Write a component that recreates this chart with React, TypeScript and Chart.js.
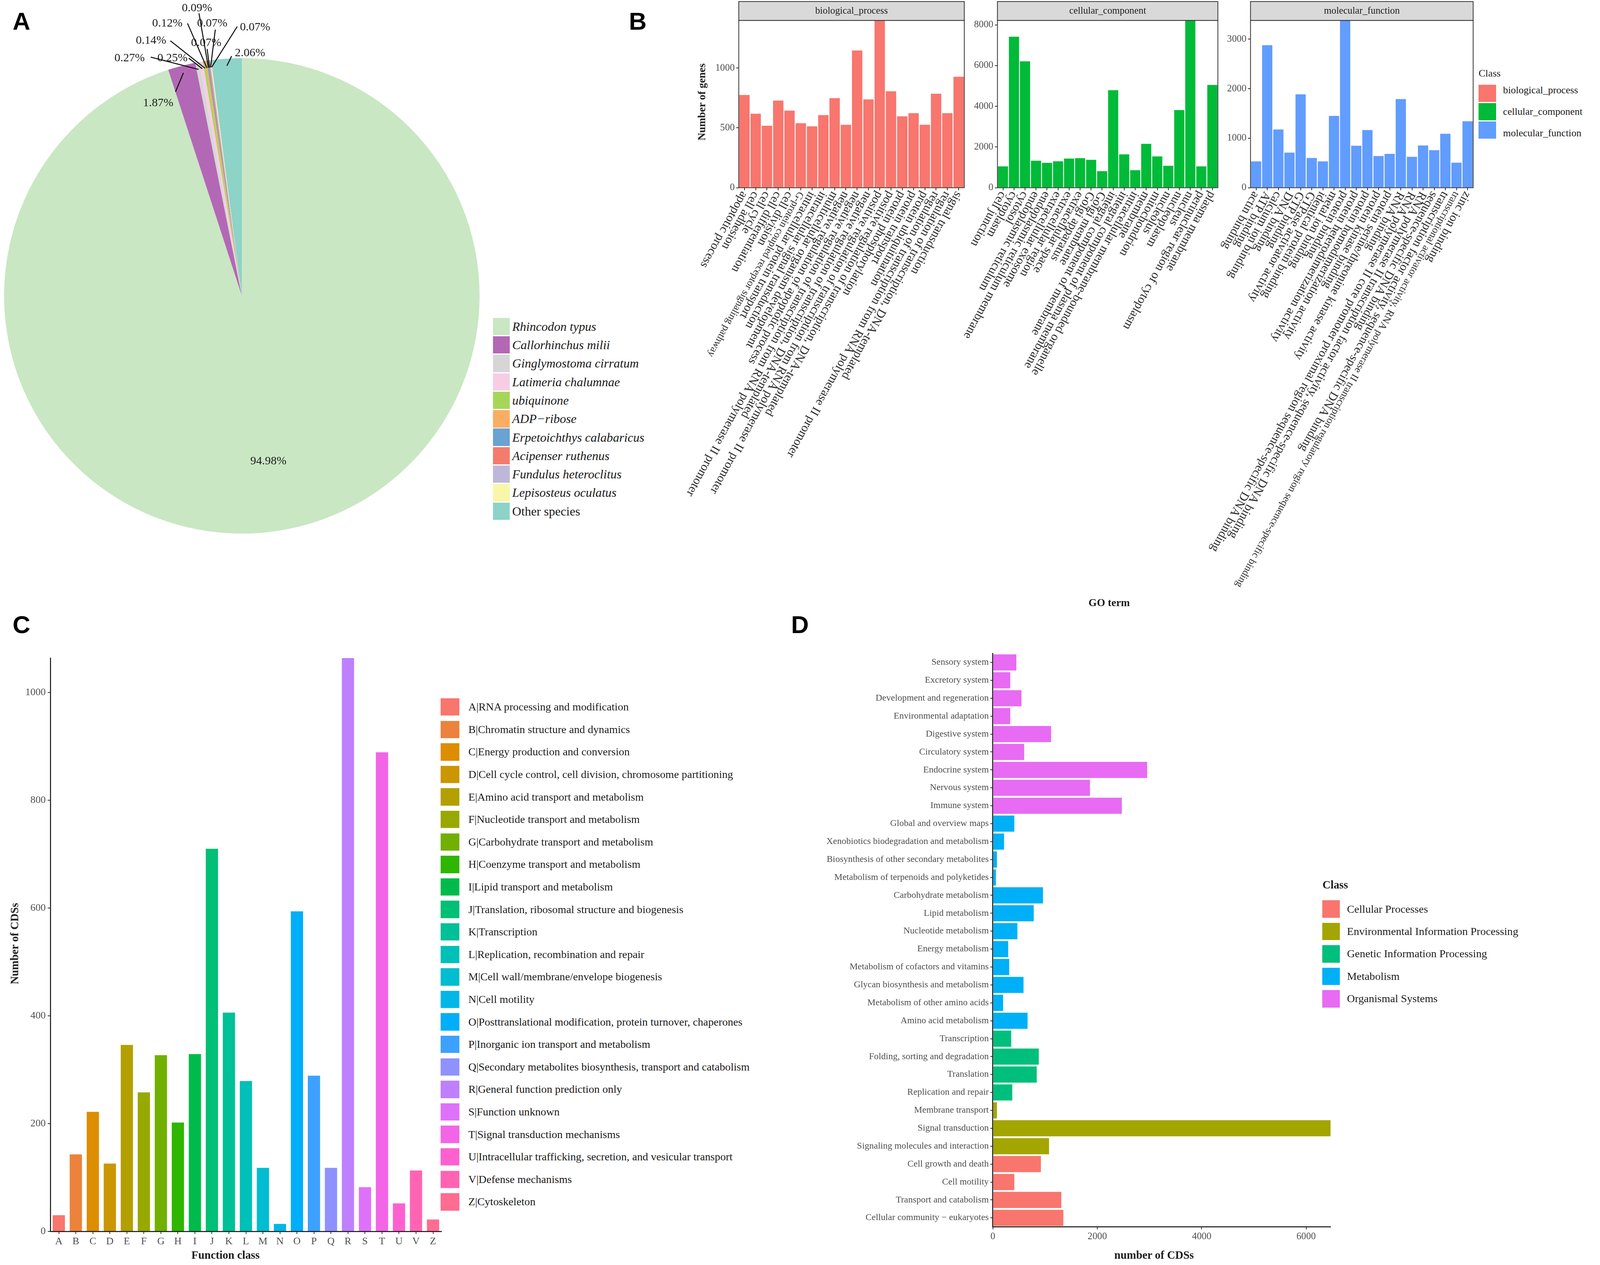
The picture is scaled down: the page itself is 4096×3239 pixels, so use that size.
import React, { useEffect, useRef } from "react";
import { Chart, registerables } from "chart.js";
Chart.register(...registerables);

const S = 4096 / 1568;
const T = (v: number) => v * S;
const SERIF = '"Liberation Serif", "Times New Roman", Times, serif';
const SANS = '"Liberation Sans", Arial, Helvetica, sans-serif';

// ---------------- Panel A data ----------------
const speciesNames = [
  "Rhincodon typus", "Callorhinchus milii", "Ginglymostoma cirratum", "Latimeria chalumnae",
  "ubiquinone", "ADP\u2212ribose", "Erpetoichthys calabaricus", "Acipenser ruthenus",
  "Fundulus heteroclitus", "Lepisosteus oculatus", "Other species",
];
const speciesPercent = [94.98, 1.87, 0.27, 0.25, 0.14, 0.12, 0.09, 0.07, 0.07, 0.07, 2.06];
const speciesColors = [
  "#C9E7C3", "#B368B6", "#D6D6D6", "#F7CDE4", "#A5D65A", "#F9AE63",
  "#6AA2D2", "#F57C6C", "#BDB8DA", "#F9F6AA", "#8DD3C7",
];
const speciesItalic = [true, true, true, true, true, true, true, true, true, true, false];
// label placement (style): offsets from pie centre in thumbnail px
const pieLabelOffset: [number, number][] = [
  [26, 162], [-82, -189], [-110, -233], [-68, -233], [-89, -250], [-73, -267],
  [-44, -282], [-35, -248], [-29, -267], [13, -263], [8, -238],
];
const pieLineFrom: ([number, number] | null)[] = [
  null, [-65, -200], [-89.3, -234], [-52, -233], [-70, -250], [-53.2, -267],
  [-42, -277], [-34, -242], [-26, -261], [-4.5, -264], [-10, -235],
];

// ---------------- Panel B data ----------------
const bpTerms = [
  "apoptotic process", "cell adhesion", "cell cycle", "cell differentiation", "cell division",
  "G-protein coupled receptor signaling pathway", "intracellular protein transport",
  "intracellular signal transduction", "multicellular organism development",
  "negative regulation of apoptotic process",
  "negative regulation of transcription from RNA polymerase II promoter",
  "negative regulation of transcription, DNA-templated",
  "positive regulation of transcription from RNA polymerase II promoter",
  "positive regulation of transcription, DNA-templated", "protein phosphorylation",
  "protein transport", "protein ubiquitination",
  "regulation of transcription from RNA polymerase II promoter",
  "regulation of transcription, DNA-templated", "signal transduction",
];
const bpGenes = [775, 618, 518, 728, 644, 539, 513, 607, 749, 526, 1147, 738, 1398, 806, 597, 623, 526, 785, 623, 927];
const bpTicks = [0, 500, 1000];

const ccTerms = [
  "cell junction", "cytoplasm", "cytosol", "endoplasmic reticulum", "endoplasmic reticulum membrane",
  "extracellular exosome", "extracellular region", "extracellular space", "Golgi apparatus",
  "Golgi membrane", "integral component of membrane", "integral component of plasma membrane",
  "intracellular membrane-bounded organelle", "membrane", "mitochondrion", "nucleolus",
  "nucleoplasm", "nucleus", "perinuclear region of cytoplasm", "plasma membrane",
];
const ccGenes = [1050, 7413, 6209, 1328, 1223, 1297, 1433, 1452, 1371, 815, 4788, 1637, 862, 2154, 1539, 1077, 3816, 8216, 1046, 5047];
const ccTicks = [0, 2000, 4000, 6000, 8000];

const mfTerms = [
  "actin binding", "ATP binding", "calcium ion binding", "DNA binding", "GTP binding",
  "GTPase activator activity", "identical protein binding", "metal ion binding", "protein binding",
  "protein heterodimerization activity", "protein homodimerization activity", "protein kinase binding",
  "protein serine/threonine kinase activity", "RNA binding",
  "RNA polymerase II core promoter proximal region sequence-specific DNA binding",
  "RNA polymerase II transcription factor activity, sequence-specific DNA binding",
  "sequence-specific DNA binding", "transcription factor activity, sequence-specific DNA binding",
  "transcriptional activator activity, RNA polymerase II transcription regulatory region sequence-specific binding",
  "zinc ion binding",
];
const mfGenes = [532, 2878, 1177, 709, 1886, 600, 532, 1451, 3380, 848, 1165, 641, 684, 1790, 625, 853, 759, 1089, 506, 1342];
const mfTicks = [0, 1000, 2000, 3000];
const goClasses = ["biological_process", "cellular_component", "molecular_function"];
const goColors = ["#F8766D", "#00BA38", "#619CFF"];
const smallTerms = new Set([
  "G-protein coupled receptor signaling pathway",
  "transcriptional activator activity, RNA polymerase II transcription regulatory region sequence-specific binding",
]);

// ---------------- Panel C data ----------------
const cogLetters = ["A", "B", "C", "D", "E", "F", "G", "H", "I", "J", "K", "L", "M", "N", "O", "P", "Q", "R", "S", "T", "U", "V", "Z"];
const cogNames = [
  "A|RNA processing and modification", "B|Chromatin structure and dynamics",
  "C|Energy production and conversion", "D|Cell cycle control, cell division, chromosome partitioning",
  "E|Amino acid transport and metabolism", "F|Nucleotide transport and metabolism",
  "G|Carbohydrate transport and metabolism", "H|Coenzyme transport and metabolism",
  "I|Lipid transport and metabolism", "J|Translation, ribosomal structure and biogenesis",
  "K|Transcription", "L|Replication, recombination and repair",
  "M|Cell wall/membrane/envelope biogenesis", "N|Cell motility",
  "O|Posttranslational modification, protein turnover, chaperones",
  "P|Inorganic ion transport and metabolism",
  "Q|Secondary metabolites biosynthesis, transport and catabolism",
  "R|General function prediction only", "S|Function unknown", "T|Signal transduction mechanisms",
  "U|Intracellular trafficking, secretion, and vesicular transport", "V|Defense mechanisms",
  "Z|Cytoskeleton",
];
const cogCounts = [30, 143, 222, 126, 346, 258, 327, 202, 329, 710, 406, 279, 118, 14, 594, 289, 118, 1064, 82, 889, 52, 113, 22];
const cogTicks = [0, 200, 400, 600, 800, 1000];

// ---------------- Panel D data ----------------
const keggPathways = [
  "Sensory system", "Excretory system", "Development and regeneration", "Environmental adaptation",
  "Digestive system", "Circulatory system", "Endocrine system", "Nervous system", "Immune system",
  "Global and overview maps", "Xenobiotics biodegradation and metabolism",
  "Biosynthesis of other secondary metabolites", "Metabolism of terpenoids and polyketides",
  "Carbohydrate metabolism", "Lipid metabolism", "Nucleotide metabolism", "Energy metabolism",
  "Metabolism of cofactors and vitamins", "Glycan biosynthesis and metabolism",
  "Metabolism of other amino acids", "Amino acid metabolism", "Transcription",
  "Folding, sorting and degradation", "Translation", "Replication and repair",
  "Membrane transport", "Signal transduction", "Signaling molecules and interaction",
  "Cell growth and death", "Cell motility", "Transport and catabolism",
  "Cellular community \u2212 eukaryotes",
];
const keggCounts = [450, 333, 548, 333, 1115, 600, 2955, 1860, 2470, 411, 215, 78, 59, 960, 783, 470, 294, 313, 587, 196, 665, 352, 880, 840, 372, 78, 6469, 1076, 920, 411, 1311, 1350];
const keggClassOf = [4, 4, 4, 4, 4, 4, 4, 4, 4, 3, 3, 3, 3, 3, 3, 3, 3, 3, 3, 3, 3, 2, 2, 2, 2, 1, 1, 1, 0, 0, 0, 0];
const keggClassNames = ["Cellular Processes", "Environmental Information Processing", "Genetic Information Processing", "Metabolism", "Organismal Systems"];
const keggClassColors = ["#F8766D", "#A3A500", "#00BF7D", "#00B0F6", "#E76BF3"];
const keggTicks = [0, 2000, 4000, 6000];

// ---------------- helpers ----------------
function hcl(h: number, c = 100, l = 65): string {
  const hr = (h * Math.PI) / 180;
  const U = c * Math.cos(hr), V = c * Math.sin(hr);
  const Xn = 95.047, Yn = 100.0, Zn = 108.883;
  const den = Xn + 15 * Yn + 3 * Zn;
  const un = (4 * Xn) / den, vn = (9 * Yn) / den;
  const Y = l > 8 ? Yn * Math.pow((l + 16) / 116, 3) : (Yn * l) / 903.3;
  const u = U / (13 * l) + un, v = V / (13 * l) + vn;
  const X = (9 * Y * u) / (4 * v);
  const Z = (Y * (12 - 3 * u - 20 * v)) / (4 * v);
  const x = X / 100, y = Y / 100, z = Z / 100;
  const lin = [
    3.240479 * x - 1.53715 * y - 0.498535 * z,
    -0.969256 * x + 1.875992 * y + 0.041556 * z,
    0.055648 * x - 0.204043 * y + 1.057311 * z,
  ];
  const g = lin.map((q) => {
    const t = q <= 0.0031308 ? 12.92 * q : 1.055 * Math.pow(q, 1 / 2.4) - 0.055;
    return Math.round(Math.max(0, Math.min(1, t)) * 255);
  });
  return `rgb(${g[0]},${g[1]},${g[2]})`;
}
const huePal = (n: number) => Array.from({ length: n }, (_, i) => hcl(15 + (360 * i) / n));
const cogColors = huePal(cogLetters.length);

type Box = { x: number; y: number; w: number; h: number };
function mkBox(x0: number, y0: number, x1: number, y1: number): Box {
  const x = Math.round(T(x0)), y = Math.round(T(y0));
  return { x, y, w: Math.round(T(x1)) - x, h: Math.round(T(y1)) - y };
}
function padFor(b: Box, l: number, t: number, r: number, btm: number, yW: number, xH: number) {
  return {
    left: T(l) - b.x - yW,
    top: T(t) - b.y,
    right: b.x + b.w - T(r),
    bottom: b.y + b.h - T(btm) - xH,
  };
}
const fixedTicks = (arr: number[]) => (s: any) => {
  s.ticks = arr.map((v) => ({ value: v }));
};
const plainLabel = (v: any) => `${v}`;

function ChartCanvas({ box, build }: { box: Box; build: (c: HTMLCanvasElement) => Chart }) {
  const ref = useRef<HTMLCanvasElement>(null);
  useEffect(() => {
    const ch = build(ref.current as HTMLCanvasElement);
    return () => ch.destroy();
  }, []);
  return (
    <canvas
      ref={ref}
      width={box.w}
      height={box.h}
      style={{ position: "absolute", left: box.x, top: box.y, width: box.w, height: box.h }}
    />
  );
}

function Txt(props: {
  x: number; y: number; size: number; children: React.ReactNode; bold?: boolean; italic?: boolean;
  align?: "left" | "center" | "right"; rotate?: number; family?: string; color?: string;
}) {
  const { x, y, size, children, bold, italic, align = "left", rotate, family = SERIF, color = "#1a1a1a" } = props;
  const tx = align === "center" ? "-50%" : align === "right" ? "-100%" : "0";
  return (
    <div
      style={{
        position: "absolute", left: T(x), top: T(y),
        transform: `translate(${tx}, -50%)${rotate ? ` rotate(${rotate}deg)` : ""}`,
        fontSize: T(size), fontFamily: family, fontWeight: bold ? 700 : 400,
        fontStyle: italic ? "italic" : "normal", color, whiteSpace: "nowrap", lineHeight: 1,
      }}
    >
      {children}
    </div>
  );
}

function Key({ x, y, w, h, color }: { x: number; y: number; w: number; h: number; color: string }) {
  return <div style={{ position: "absolute", left: T(x), top: T(y), width: T(w), height: T(h), background: color }} />;
}

// ---------------- Panel A chart ----------------
const pieBox = mkBox(0, 0, 480, 540);
function buildPie(c: HTMLCanvasElement) {
  const labelPlugin = {
    id: "pieLabels",
    afterDraw(chart: any) {
      const { ctx } = chart;
      const meta = chart.getDatasetMeta(0);
      ctx.save();
      ctx.font = `${T(11.5)}px ${SERIF}`;
      ctx.fillStyle = "#1a1a1a";
      ctx.textAlign = "center";
      ctx.textBaseline = "middle";
      const ends: any[] = [];
      meta.data.forEach((arc: any, i: number) => {
        const p = arc.getProps(["x", "y", "startAngle", "endAngle", "outerRadius"], true);
        const [dx, dy] = pieLabelOffset[i];
        ctx.fillText(`${speciesPercent[i].toFixed(2)}%`, p.x + T(dx), p.y + T(dy));
        const mid = (p.startAngle + p.endAngle) / 2;
        ends.push({ p, mid, i });
      });
      ctx.strokeStyle = "#111";
      ctx.lineWidth = 2.6;
      ends.forEach(({ p, mid, i }) => {
        const from = pieLineFrom[i];
        if (!from) return;
        const r = p.outerRadius * 0.97;
        ctx.beginPath();
        ctx.moveTo(p.x + T(from[0]), p.y + T(from[1]));
        ctx.lineTo(p.x + r * Math.cos(mid), p.y + r * Math.sin(mid));
        ctx.stroke();
      });
      ctx.restore();
    },
  };
  return new Chart(c, {
    type: "pie",
    data: {
      labels: speciesNames,
      datasets: [{ data: speciesPercent, backgroundColor: speciesColors, borderWidth: 0 }],
    },
    options: {
      responsive: false, animation: false, devicePixelRatio: 1, rotation: 0,
      layout: { padding: { left: T(4) - pieBox.x, top: T(57) - pieBox.y, right: pieBox.x + pieBox.w - T(470), bottom: pieBox.y + pieBox.h - T(523) } },
      plugins: { legend: { display: false }, tooltip: { enabled: false } },
    },
    plugins: [labelPlugin],
  } as any);
}

// ---------------- Panel B charts ----------------
function buildGo(
  c: HTMLCanvasElement, box: Box, terms: string[], genes: number[], color: string, title: string,
  left: number, right: number, ticks: number[],
) {
  const yW = T(30), xH = T(3);
  const facet = {
    id: "facet",
    afterDraw(chart: any) {
      const { ctx, chartArea: a } = chart;
      ctx.save();
      ctx.strokeStyle = "#333";
      ctx.lineWidth = 2;
      ctx.strokeRect(a.left, a.top, a.right - a.left, a.bottom - a.top);
      const sh = T(18.5);
      ctx.fillStyle = "#D9D9D9";
      ctx.fillRect(a.left, a.top - sh, a.right - a.left, sh);
      ctx.strokeRect(a.left, a.top - sh, a.right - a.left, sh);
      ctx.fillStyle = "#1A1A1A";
      ctx.font = `${T(9.5)}px ${SERIF}`;
      ctx.textAlign = "center";
      ctx.textBaseline = "middle";
      ctx.fillText(title, (a.left + a.right) / 2, a.top - sh / 2);
      const xs = chart.scales.x;
      terms.forEach((lab, i) => {
        const x = xs.getPixelForValue(i);
        const y = a.bottom + T(4.5);
        ctx.save();
        ctx.translate(x, y);
        ctx.rotate((119 * Math.PI) / 180);
        ctx.font = `${smallTerms.has(lab) ? T(10) : T(12)}px ${SERIF}`;
        ctx.textAlign = "left";
        ctx.textBaseline = "middle";
        ctx.fillStyle = "#2a2a2a";
        ctx.fillText(lab, 0, 0);
        ctx.restore();
      });
      ctx.restore();
    },
  };
  return new Chart(c, {
    type: "bar",
    data: {
      labels: terms,
      datasets: [{ data: genes, backgroundColor: color, barPercentage: 0.92, categoryPercentage: 1, borderWidth: 0 }],
    },
    options: {
      responsive: false, animation: false, devicePixelRatio: 1,
      layout: { padding: padFor(box, left, 20, right, 184, yW, xH) },
      plugins: { legend: { display: false }, tooltip: { enabled: false } },
      scales: {
        x: {
          type: "category",
          grid: { display: true, drawOnChartArea: false, drawTicks: true, tickLength: T(2.5), color: "#333", lineWidth: 2, offset: false },
          border: { display: false },
          ticks: { display: false },
          afterFit: (s: any) => { s.height = xH; },
        },
        y: {
          min: 0, max: Math.max(...genes),
          afterBuildTicks: fixedTicks(ticks),
          ticks: { callback: plainLabel, font: { family: SERIF, size: T(9.5) }, color: "#4D4D4D", padding: T(1.5) },
          grid: { display: true, drawOnChartArea: false, drawTicks: true, tickLength: T(2.5), color: "#333", lineWidth: 2 },
          border: { display: false },
          afterFit: (s: any) => { s.width = yW; },
        },
      },
    },
    plugins: [facet],
  } as any);
}
const bpBox = mkBox(640, 0, 960, 600);
const ccBox = mkBox(900, 0, 1205, 600);
const mfBox = mkBox(1140, 0, 1450, 600);

// ---------------- Panel C chart ----------------
const cogBox = mkBox(0, 620, 445, 1240);
function buildCog(c: HTMLCanvasElement) {
  const yW = T(37), xH = T(14);
  return new Chart(c, {
    type: "bar",
    data: {
      labels: cogLetters,
      datasets: [{ data: cogCounts, backgroundColor: cogColors, barPercentage: 0.72, categoryPercentage: 1, borderWidth: 0 }],
    },
    options: {
      responsive: false, animation: false, devicePixelRatio: 1,
      layout: { padding: padFor(cogBox, 49.3, 645, 432.7, 1207, yW, xH) },
      plugins: { legend: { display: false }, tooltip: { enabled: false } },
      scales: {
        x: {
          type: "category",
          grid: { display: true, drawOnChartArea: false, drawTicks: true, tickLength: T(2.5), color: "#333", lineWidth: 2, offset: false },
          border: { display: true, color: "#111", width: 2.5 },
          ticks: { font: { family: SERIF, size: T(10) }, color: "#4D4D4D", padding: T(1.5), autoSkip: false, maxRotation: 0 },
          afterFit: (s: any) => { s.height = xH; },
        },
        y: {
          min: 0, max: Math.max(...cogCounts),
          afterBuildTicks: fixedTicks(cogTicks),
          ticks: { callback: plainLabel, font: { family: SERIF, size: T(10) }, color: "#4D4D4D", padding: T(2) },
          grid: { display: true, drawOnChartArea: false, drawTicks: true, tickLength: T(2.5), color: "#333", lineWidth: 2 },
          border: { display: true, color: "#111", width: 2.5 },
          afterFit: (s: any) => { s.width = yW; },
        },
      },
    },
  } as any);
}

// ---------------- Panel D chart ----------------
const keggBox = mkBox(760, 620, 1320, 1245);
function buildKegg(c: HTMLCanvasElement) {
  const yW = T(973) - keggBox.x, xH = T(20);
  return new Chart(c, {
    type: "bar",
    data: {
      labels: keggPathways,
      datasets: [{
        data: keggCounts,
        backgroundColor: keggClassOf.map((k) => keggClassColors[k]),
        barPercentage: 0.9, categoryPercentage: 1, borderWidth: 0,
      }],
    },
    options: {
      indexAxis: "y",
      responsive: false, animation: false, devicePixelRatio: 1,
      layout: { padding: padFor(keggBox, 973, 640.5, 1304, 1202.5, yW, xH) },
      plugins: { legend: { display: false }, tooltip: { enabled: false } },
      scales: {
        y: {
          type: "category",
          grid: { display: true, drawOnChartArea: false, drawTicks: true, tickLength: T(2.5), color: "#333", lineWidth: 2, offset: false },
          border: { display: true, color: "#111", width: 2.5 },
          ticks: { font: { family: SERIF, size: T(9) }, color: "#4D4D4D", padding: T(1.5), autoSkip: false },
          afterFit: (s: any) => { s.width = yW; },
        },
        x: {
          min: 0, max: Math.max(...keggCounts),
          afterBuildTicks: fixedTicks(keggTicks),
          ticks: { callback: plainLabel, font: { family: SERIF, size: T(9.5) }, color: "#4D4D4D", padding: T(1.5), maxRotation: 0 },
          grid: { display: true, drawOnChartArea: false, drawTicks: true, tickLength: T(2.5), color: "#333", lineWidth: 2 },
          border: { display: true, color: "#111", width: 2.5 },
          afterFit: (s: any) => { s.height = xH; },
        },
      },
    },
  } as any);
}

export default function App() {
  return (
    <div style={{ position: "absolute", left: 0, top: 0, width: 4096, height: 3239, background: "#fff", overflow: "hidden" }}>
      {/* Panel A */}
      <ChartCanvas box={pieBox} build={buildPie} />
      {speciesNames.map((n, i) => (
        <React.Fragment key={n}>
          <Key x={483} y={320 + 18.1 * i - 8.5} w={16.5} h={17} color={speciesColors[i]} />
          <Txt x={502} y={320 + 18.1 * i} size={12.3} italic={speciesItalic[i]}>{n}</Txt>
        </React.Fragment>
      ))}

      {/* Panel B */}
      <ChartCanvas box={bpBox} build={(c) => buildGo(c, bpBox, bpTerms, bpGenes, goColors[0], goClasses[0], 724, 945, bpTicks)} />
      <ChartCanvas box={ccBox} build={(c) => buildGo(c, ccBox, ccTerms, ccGenes, goColors[1], goClasses[1], 977.5, 1193.5, ccTicks)} />
      <ChartCanvas box={mfBox} build={(c) => buildGo(c, mfBox, mfTerms, mfGenes, goColors[2], goClasses[2], 1225.5, 1443.7, mfTicks)} />
      <Txt x={688} y={100} size={10.5} bold align="center" rotate={-90}>Number of genes</Txt>
      <Txt x={1087} y={591} size={10.5} bold align="center">GO term</Txt>
      <Txt x={1449} y={72} size={10}>Class</Txt>
      {goClasses.map((g, i) => (
        <React.Fragment key={g}>
          <Key x={1449} y={83 + 18 * i} w={17} h={17} color={goColors[i]} />
          <Txt x={1473} y={88.5 + 21 * i} size={9.8}>{g}</Txt>
        </React.Fragment>
      ))}

      {/* Panel C */}
      <ChartCanvas box={cogBox} build={buildCog} />
      <Txt x={14} y={925} size={11} bold align="center" rotate={-90}>Number of CDSs</Txt>
      <Txt x={221} y={1230} size={11} bold align="center">Function class</Txt>
      {cogNames.map((n, i) => (
        <React.Fragment key={n}>
          <Key x={432} y={693 + 22.05 * i - 8.5} w={18} h={17} color={cogColors[i]} />
          <Txt x={459} y={693 + 22.05 * i} size={10.8}>{n}</Txt>
        </React.Fragment>
      ))}

      {/* Panel D */}
      <ChartCanvas box={keggBox} build={buildKegg} />
      <Txt x={1131} y={1230} size={11} bold align="center">number  of CDSs</Txt>
      <Txt x={1296} y={867} size={11} bold>Class</Txt>
      {keggClassNames.map((n, i) => (
        <React.Fragment key={n}>
          <Key x={1296} y={891 + 22 * i - 8.5} w={17} h={17} color={keggClassColors[i]} />
          <Txt x={1320} y={891 + 22 * i} size={10.8}>{n}</Txt>
        </React.Fragment>
      ))}

      {/* Panel letters */}
      <Txt x={21} y={20.5} size={24} bold align="center" family={SANS} color="#000">A</Txt>
      <Txt x={625} y={20.5} size={24} bold align="center" family={SANS} color="#000">B</Txt>
      <Txt x={21} y={612} size={24} bold align="center" family={SANS} color="#000">C</Txt>
      <Txt x={784} y={612} size={24} bold align="center" family={SANS} color="#000">D</Txt>
    </div>
  );
}
